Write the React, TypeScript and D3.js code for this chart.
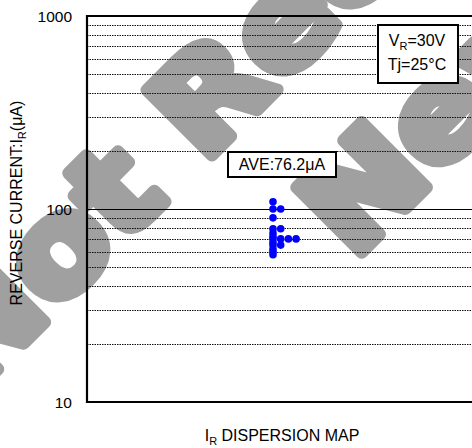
import React from 'react';
import * as d3 from 'd3';

// ---- data ----
const samples = [109, 100, 100, 90, 79, 79, 75, 72, 70, 70, 70, 70, 67, 65, 65, 62, 60, 58];
const tickValues = [10, 100, 1000];
const tickLabels = ['10', '100', '1000'];
const minorGrid = [20, 30, 40, 50, 60, 70, 80, 90, 200, 300, 400, 500, 600, 700, 800, 900];
const majorGrid = [100];
const average = 76.2;
const conditionVR = '30V';
const conditionTj = '25°C';
const watermarkLines = ['Not Recommended for', 'New Design'];

const W = 472;
const H = 448;
const FONT = '"Liberation Sans", Arial, Helvetica, sans-serif';

export default function App() {
  const left = 87;
  const top = 16;
  const bottom = 402;
  const y = d3.scaleLog().domain([10, 1000]).range([bottom, top]);
  const x = d3.scaleLinear().domain([0, 1]).range([left, 459]);
  const colStep = 7.7;

  const counts = new Map<number, number>();
  const dots = samples.map((v) => {
    const c = counts.get(v) || 0;
    counts.set(v, c + 1);
    return { v, cx: x(0.5) + c * colStep, cy: y(v) };
  });

  return (
    <svg width={W} height={H} style={{ position: 'absolute', left: 0, top: 0, background: '#fff' }} fontFamily={FONT}>
      <rect x={0} y={0} width={W} height={H} fill="#fff" />
      {/* watermark */}
      <g transform="translate(-28.8,396.3) rotate(-45) scale(1.1,1)" fill="#a0a0a0" stroke="#a0a0a0" strokeWidth={12} strokeLinejoin="round"
        fontFamily='"DejaVu Sans", sans-serif' fontWeight="bold" fontSize={127}>
        <text x={0} y={0}>{watermarkLines[0]}</text>
        <text x={332} y={174.6}>{watermarkLines[1]}</text>
      </g>
      {/* grid */}
      {minorGrid.map((g) => (
        <line key={g} x1={left} x2={W} y1={Math.round(y(g)) + 0.5} y2={Math.round(y(g)) + 0.5} stroke="#111" strokeWidth={1} strokeDasharray="1.5,1" />
      ))}
      {majorGrid.map((g) => (
        <line key={g} x1={left} x2={W} y1={Math.round(y(g)) + 0.5} y2={Math.round(y(g)) + 0.5} stroke="#000" strokeWidth={1} />
      ))}
      {/* frame */}
      <line x1={left} x2={W} y1={top} y2={top} stroke="#000" strokeWidth={2} />
      <line x1={left} x2={W} y1={bottom} y2={bottom} stroke="#000" strokeWidth={2.2} />
      <line x1={left} x2={left} y1={top - 1} y2={bottom + 1} stroke="#000" strokeWidth={2.2} />
      {/* tick labels */}
      {tickValues.map((t, i) => (
        <text key={t} x={72} y={y(t) + 5.5} textAnchor="end" fontSize={15.5} fill="#000">{tickLabels[i]}</text>
      ))}
      {/* dots */}
      {dots.map((d, i) => (
        <circle key={i} cx={d.cx} cy={d.cy} r={3.8} fill="#0000ff" />
      ))}
      {/* AVE box */}
      <rect x={228} y={152} width={108} height={25} fill="#fff" stroke="#000" strokeWidth={2} />
      <text x={282} y={170} textAnchor="middle" fontSize={16} fill="#000">{`AVE:${average}μA`}</text>
      {/* conditions box */}
      <rect x={378} y={25} width={80} height={58} fill="#fff" stroke="#000" strokeWidth={2} />
      <text x={417} y={46} textAnchor="middle" fontSize={16} fill="#000">
        V<tspan fontSize={11} dy={4}>R</tspan><tspan dy={-4}>{`=${conditionVR}`}</tspan>
      </text>
      <text x={417} y={70} textAnchor="middle" fontSize={16} fill="#000">{`Tj=${conditionTj}`}</text>
      {/* y title */}
      <text transform="translate(22,203) rotate(-90)" textAnchor="middle" fontSize={16} fill="#000">
        REVERSE CURRENT:I<tspan fontSize={11} dy={4}>R</tspan><tspan dy={-4}>(μA)</tspan>
      </text>
      {/* x title */}
      <text x={282} y={441} textAnchor="middle" fontSize={16} fill="#000">
        I<tspan fontSize={11} dy={4}>R</tspan><tspan dy={-4}> DISPERSION MAP</tspan>
      </text>
    </svg>
  );
}
